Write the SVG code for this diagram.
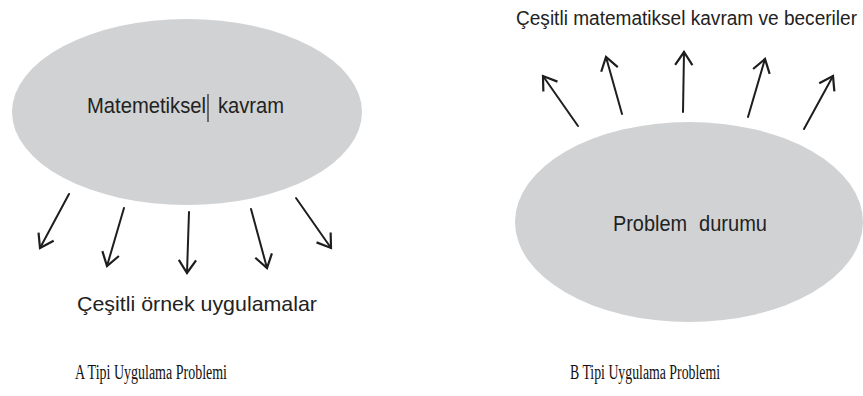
<svg xmlns="http://www.w3.org/2000/svg" width="863" height="396" viewBox="0 0 863 396">
<style>
.blob{fill:#d1d2d4;stroke:none}
.sans{font-family:"Liberation Sans",Arial,sans-serif;fill:#222}
.serif{font-family:"Liberation Serif","Times New Roman",serif;fill:#111}
.arr{stroke:#1e1e1e;stroke-width:2;fill:none;stroke-linecap:round;marker-end:url(#head)}
</style>
<defs>
<marker id="head" markerUnits="userSpaceOnUse" markerWidth="20" markerHeight="20" viewBox="-14 -10 16 20" refX="0" refY="0" orient="auto">
<path d="M-12,-8 L0,0 L-12,8" fill="none" stroke="#1e1e1e" stroke-width="2.2" stroke-linecap="square" stroke-linejoin="miter"/>
</marker>
</defs>
<rect width="863" height="396" fill="#ffffff"/>
<g id="nodeA">
<ellipse class="blob" cx="187" cy="112" rx="175" ry="93"/>
<text class="sans" font-size="22" x="87" y="113" textLength="119" lengthAdjust="spacingAndGlyphs">Matemetiksel</text>
<text class="sans" font-size="22" x="218" y="113" textLength="66" lengthAdjust="spacingAndGlyphs">kavram</text>
<line x1="208" y1="94" x2="208" y2="122" stroke="#222" stroke-width="1.2"/>
</g>
<g id="nodeB">
<ellipse class="blob" cx="689" cy="222" rx="174" ry="100"/>
<text class="sans" font-size="22" x="613" y="231" textLength="74" lengthAdjust="spacingAndGlyphs">Problem</text>
<text class="sans" font-size="22" x="699" y="231" textLength="68" lengthAdjust="spacingAndGlyphs">durumu</text>
</g>
<g id="labelA">
<text class="sans" font-size="21" x="77" y="311" textLength="240" lengthAdjust="spacingAndGlyphs">Çeşitli örnek uygulamalar</text>
</g>
<g id="labelB">
<text class="sans" font-size="20" x="516" y="25" textLength="341" lengthAdjust="spacingAndGlyphs">Çeşitli matematiksel kavram ve beceriler</text>
</g>
<g id="connectors">
<line class="arr" x1="69" y1="194" x2="40" y2="248"/>
<line class="arr" x1="124" y1="208" x2="107" y2="266"/>
<line class="arr" x1="189" y1="212" x2="187" y2="273"/>
<line class="arr" x1="251" y1="209" x2="267" y2="268"/>
<line class="arr" x1="296" y1="198" x2="331" y2="248"/>
<line class="arr" x1="578" y1="126" x2="543" y2="76"/>
<line class="arr" x1="622" y1="114" x2="606" y2="57"/>
<line class="arr" x1="683" y1="112" x2="684" y2="52"/>
<line class="arr" x1="748" y1="117" x2="765" y2="59"/>
<line class="arr" x1="804" y1="129" x2="833" y2="76"/>
</g>
<g id="captions">
<text class="serif" font-size="20" x="75" y="379" textLength="152" lengthAdjust="spacingAndGlyphs">A Tipi Uygulama Problemi</text>
<text class="serif" font-size="20" x="570" y="379" textLength="150" lengthAdjust="spacingAndGlyphs">B Tipi Uygulama Problemi</text>
</g>
</svg>
